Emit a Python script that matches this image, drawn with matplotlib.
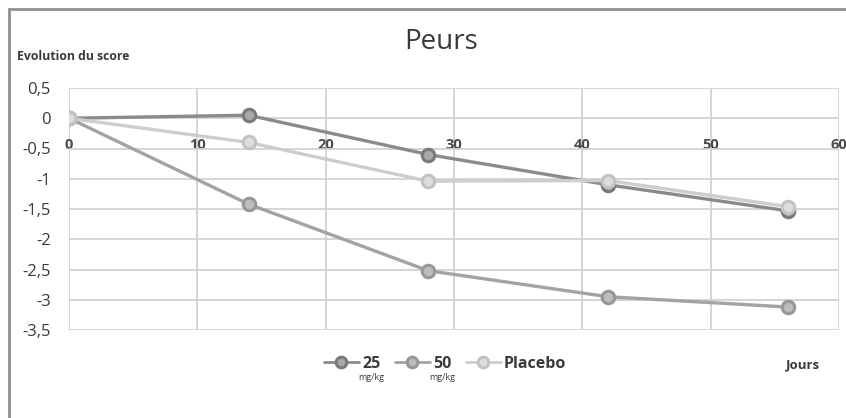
import matplotlib
matplotlib.use("Agg")
import matplotlib.pyplot as plt
from matplotlib.patches import Rectangle

plt.rcParams['font.family'] = ['Open Sans', 'DejaVu Sans']

# Data
jours = [0, 14, 28, 42, 56]
dose_25 = [0.0, 0.05, -0.60, -1.10, -1.53]
dose_50 = [0.0, -1.42, -2.52, -2.95, -3.12]
placebo = [0.0, -0.40, -1.04, -1.03, -1.46]

series_labels = ["25", "50", "Placebo"]
series_units = ["mg/kg", "mg/kg", ""]

y_ticks = [0.5, 0, -0.5, -1, -1.5, -2, -2.5, -3, -3.5]
y_tick_labels = ["0,5", "0", "-0,5", "-1", "-1,5", "-2", "-2,5", "-3", "-3,5"]
x_ticks = [0, 10, 20, 30, 40, 50, 60]

styles = [
    dict(color="#8a8a8a", mec="#7a7a7a", mfc="#a8a8a8"),
    dict(color="#a3a3a3", mec="#979797", mfc="#bdbdbd"),
    dict(color="#cdcdcd", mec="#c2c2c2", mfc="#dddddd"),
]

W, H = 846, 418
fig = plt.figure(figsize=(W / 100, H / 100), dpi=100)
ax = fig.add_axes([69 / W, 1 - 330 / H, (839 - 69) / W, (330 - 88) / H])

# outer chart frame
fig.patches.append(Rectangle((9 / W, -0.2), 1.2, 1.2 - 9 / H,
                             transform=fig.transFigure, fill=False,
                             edgecolor="#8f8f8f", linewidth=2.0, clip_on=False))

handles = []
for vals, lab, st in zip([dose_25, dose_50, placebo], series_labels, styles):
    h, = ax.plot(jours, vals, color=st["color"], lw=2.4, marker="o",
                 markersize=9, markeredgewidth=2.2, mec=st["mec"], mfc=st["mfc"],
                 label=lab, solid_capstyle="round", zorder=3)
    handles.append(h)

ax.set_xlim(0, 60)
ax.set_ylim(-3.5, 0.5)
ax.set_yticks(y_ticks)
ax.set_yticklabels(y_tick_labels)
ax.set_xticks(x_ticks)
ax.grid(True, color="#d2d2d2", linewidth=1.3, zorder=0)
ax.set_axisbelow(True)

for s in ["top", "right", "left"]:
    ax.spines[s].set_visible(False)
ax.spines["bottom"].set_position(("data", 0))
ax.spines["bottom"].set_visible(False)

ax.tick_params(axis="y", length=0, pad=13, labelsize=12, labelcolor="#3a3a3a")
ax.tick_params(axis="x", length=0, pad=14, labelsize=10.5, labelcolor="#4a4a4a")
for t in ax.get_xticklabels():
    t.set_fontweight("bold")

fig.text(441 / W, 1 - 42 / H, "Peurs", ha="center", va="center", fontsize=20,
         color="#3a3a3a")
fig.text(17 / W, 1 - 57 / H, "Evolution du score", ha="left", va="center",
         fontsize=8.8, fontweight="bold", color="#3a3a3a")
fig.text(803 / W, 1 - 365 / H, "Jours", ha="center", va="center",
         fontsize=9.5, fontweight="bold", color="#3a3a3a")

leg = fig.legend(handles=handles, loc="center", bbox_to_anchor=(445 / W, 1 - 364 / H),
                 ncol=3, frameon=False, fontsize=11.5, handlelength=2.2,
                 handletextpad=0.2, columnspacing=0.9, labelcolor="#3a3a3a",
                 markerscale=0.85)
for t in leg.get_texts():
    t.set_fontweight("bold")
for lh in leg.legend_handles:
    lh.set_linewidth(2.0)

# unit annotation under dose labels
fig.canvas.draw()
renderer = fig.canvas.get_renderer()
inv = fig.transFigure.inverted()
for t, unit in zip(leg.get_texts(), series_units):
    if not unit:
        continue
    bb = t.get_window_extent(renderer)
    x0, y0 = inv.transform((bb.x0 + bb.width / 2, bb.y0))
    fig.text(x0, y0 - 0.003, unit, ha="center", va="top", fontsize=6.5,
             color="#3a3a3a")

fig.savefig("out.png", dpi=100)
